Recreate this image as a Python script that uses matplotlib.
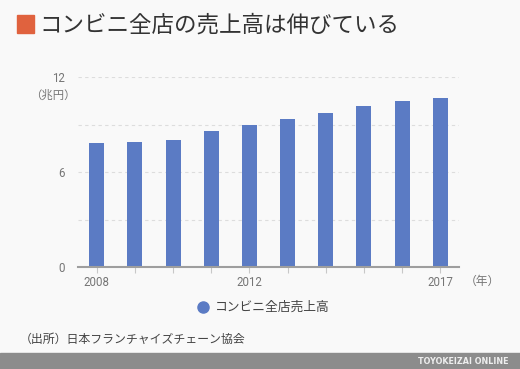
import matplotlib
matplotlib.use("Agg")
import matplotlib.pyplot as plt
from matplotlib.patches import Rectangle

plt.rcParams['font.family'] = ['Noto Sans CJK JP', 'DejaVu Sans']

years = [2008, 2009, 2010, 2011, 2012, 2013, 2014, 2015, 2016, 2017]
sales = [7.83, 7.90, 8.02, 8.63, 9.01, 9.37, 9.73, 10.19, 10.49, 10.68]
tick_labels = {2008: "2008", 2012: "2012", 2017: "2017"}
y_ticks = [0, 6, 12]
grid_ticks = [3, 6, 9, 12]

title = "コンビニ全店の売上高は伸びている"
series_name = "コンビニ全店売上高"
unit_y = "（兆円）"
unit_x = "（年）"
source = "（出所）日本フランチャイズチェーン協会"
brand = "TOYOKEIZAI ONLINE"

bg = "#f9f9f9"
bar_color = "#5b7bc4"
gray_text = "#757575"

fig = plt.figure(figsize=(5.2, 3.69), dpi=100, facecolor=bg)
ax = fig.add_axes([0.1494, 0.2756, 0.7339, 0.5149], facecolor=bg)

x = list(range(len(years)))
ax.bar(x, sales, width=0.39, color=bar_color, zorder=3)
ax.set_xlim(-0.5, len(years) - 0.5)
ax.set_ylim(0, 12)

for g in grid_ticks:
    ax.axhline(g, color="#dddddd", lw=0.8, ls=(0, (3, 3)), zorder=1)

for s in ["top", "right", "left"]:
    ax.spines[s].set_visible(False)
ax.spines["bottom"].set_color("#9e9e9e")
ax.spines["bottom"].set_linewidth(1.5)
ax.spines["bottom"].set_zorder(4)

ax.set_xticks(x)
ax.set_xticklabels([tick_labels.get(y, "") for y in years], fontsize=8.3,
                   color=gray_text, family=['Roboto', 'DejaVu Sans'])
ax.tick_params(axis="x", length=4, color="#c8c8c8", pad=2)
ax.set_yticks(y_ticks)
ax.set_yticklabels([str(v) for v in y_ticks], fontsize=8.3, color=gray_text,
                   family=['Roboto', 'DejaVu Sans'])
ax.tick_params(axis="y", length=0, pad=9)

fig.text(30 / 520, 1 - 95 / 369, unit_y, fontsize=8.2, color=gray_text,
         ha="left", va="center")
fig.text(482 / 520, 1 - 281 / 369, unit_x, fontsize=8.5, color=gray_text,
         ha="center", va="center")

# title
fig.patches.append(Rectangle((17 / 520, 1 - 33 / 369), 17 / 520, 18 / 369,
                             transform=fig.transFigure, color="#e0623e"))
fig.text(39 / 520, 1 - 25 / 369, title, fontsize=16.2, color="#333333",
         ha="left", va="center")

# legend
fig.lines.append(plt.Line2D([203 / 520], [1 - 307 / 369], marker="o", ms=8,
                            color=bar_color, transform=fig.transFigure, ls=""))
fig.text(215 / 520, 1 - 307 / 369, series_name, fontsize=9.2, color="#444444",
         ha="left", va="center")

# source
fig.text(20 / 520, 1 - 339 / 369, source, fontsize=8.6, color="#444444",
         ha="left", va="center")

# footer
fig.patches.append(Rectangle((0, 0), 1, 16 / 369, transform=fig.transFigure,
                             color="#8c8c8c"))
fig.text(508 / 520, 8 / 369, brand, fontsize=5.8, color="#eeeeee", weight="bold",
         ha="right", va="center", family=['DejaVu Sans'])

fig.savefig("out.png", dpi=100, facecolor=bg)
